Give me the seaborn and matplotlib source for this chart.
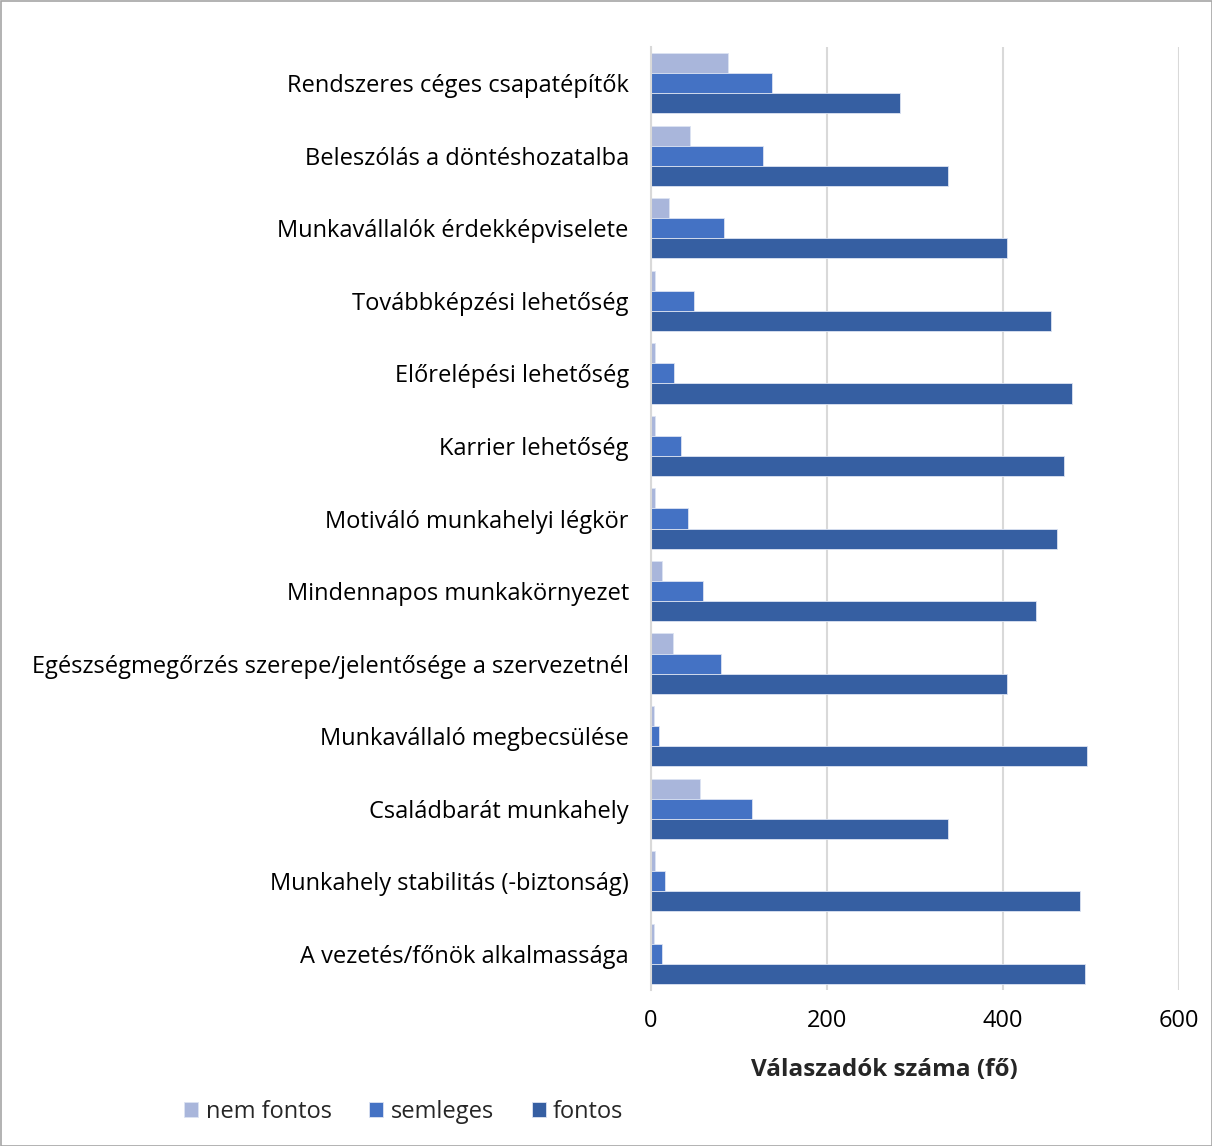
import matplotlib
matplotlib.use("Agg")
import matplotlib.pyplot as plt
import seaborn as sns
import pandas as pd
from matplotlib.patches import Rectangle

categories = [
    "Rendszeres céges csapatépítők",
    "Beleszólás a döntéshozatalba",
    "Munkavállalók érdekképviselete",
    "Továbbképzési lehetőség",
    "Előrelépési lehetőség",
    "Karrier lehetőség",
    "Motiváló munkahelyi légkör",
    "Mindennapos munkakörnyezet",
    "Egészségmegőrzés szerepe/jelentősége a szervezetnél",
    "Munkavállaló megbecsülése",
    "Családbarát munkahely",
    "Munkahely stabilitás (-biztonság)",
    "A vezetés/főnök alkalmassága",
]
nem_fontos = [88, 44, 20, 5, 4, 5, 5, 12, 25, 3, 56, 5, 3]
semleges = [137, 127, 83, 49, 26, 34, 42, 59, 79, 9, 115, 16, 12]
fontos = [283, 337, 405, 454, 478, 469, 461, 437, 404, 496, 337, 487, 493]
series_names = ["nem fontos", "semleges", "fontos"]
colors = ["#A9B6DB", "#4472C4", "#365FA2"]

rows = []
for name, vals in zip(series_names, [nem_fontos, semleges, fontos]):
    for c, v in zip(categories, vals):
        rows.append({"cat": c, "val": v, "series": name})
df = pd.DataFrame(rows)

sns.set_theme(style="white")
plt.rcParams["font.family"] = ["Open Sans", "DejaVu Sans"]

fig = plt.figure(figsize=(12.12, 11.46), dpi=100)
ax = fig.add_axes([651 / 1212, 1 - 990 / 1146, (1179 - 651) / 1212, (990 - 47) / 1146])

sns.barplot(data=df, y="cat", x="val", hue="series", order=categories,
            hue_order=series_names, palette=colors, saturation=1, orient="h",
            width=0.83, ax=ax, edgecolor="#DCE3F2", linewidth=0.6,
            legend=True)

ax.set_xlim(0, 600)
ax.set_xticks([0, 200, 400, 600])
ax.grid(axis="x", color="#D9D9D9", linewidth=1.5)
ax.set_axisbelow(True)
for s in ["top", "right", "bottom"]:
    ax.spines[s].set_visible(False)
ax.spines["left"].set_color("#D9D9D9")
ax.spines["left"].set_linewidth(1.5)
ax.tick_params(axis="both", length=0, labelsize=17, colors="black")
ax.tick_params(axis="y", pad=16)
ax.tick_params(axis="x", pad=14)
ax.set_ylabel("")
ax.set_xlabel("Válaszadók száma (fő)", fontsize=17.5, fontweight="bold")
ax.xaxis.set_label_coords((884 - 651) / 528, -(1070 - 990) / 943, transform=ax.transAxes)
ax.xaxis.label.set_verticalalignment("center")

handles, labels = ax.get_legend_handles_labels()
ax.legend_.remove()
fig.legend(handles, labels, loc="center left", bbox_to_anchor=(163 / 1212, 1 - 1112 / 1146),
           ncol=3, frameon=False, fontsize=17, handlelength=0.6, handleheight=0.6,
           handletextpad=0.3, columnspacing=1.6)

fig.patches.append(Rectangle((0.5 / 1212, 0.5 / 1146), 1 - 1 / 1212, 1 - 1 / 1146,
                             transform=fig.transFigure, fill=False,
                             edgecolor="#A6A6A6", linewidth=1.2))

fig.savefig("out.png", dpi=100)
